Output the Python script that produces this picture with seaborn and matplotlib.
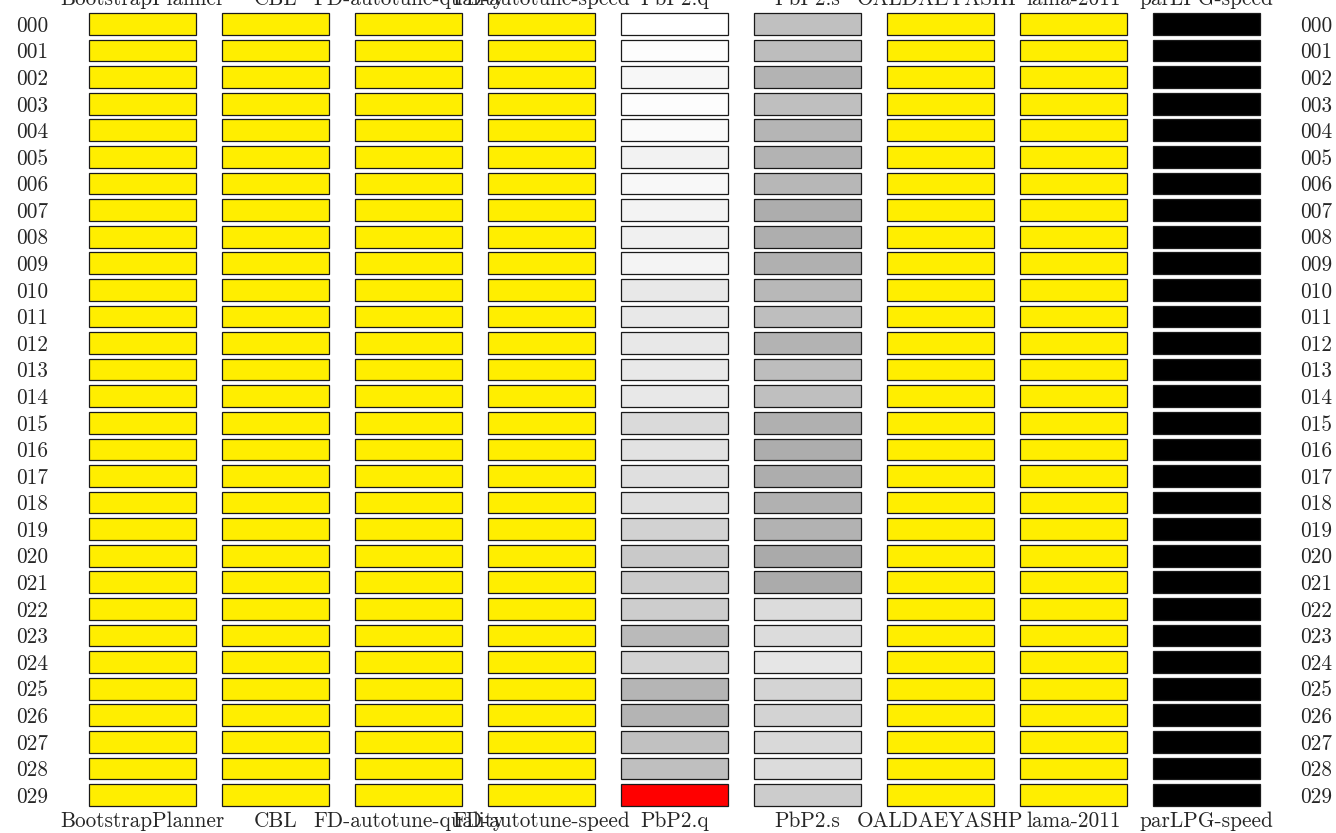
import matplotlib
matplotlib.use("Agg")
import matplotlib.pyplot as plt
import seaborn as sns

problems = ["%03d" % i for i in range(30)]
planners = ["BootstrapPlanner", "CBL", "FD-autotune-quality", "FD-autotune-speed",
            "PbP2.q", "PbP2.s", "OALDAEYASHP", "lama-2011", "parLPG-speed"]

# cell status per planner: "Y" = yellow, "K" = black, "R" = red, a number = grey level (255 white)
bootstrap = ["Y"] * 30
cbl = ["Y"] * 30
fd_quality = ["Y"] * 30
fd_speed = ["Y"] * 30
pbp2_q = [255, 253, 247, 253, 250, 242, 248, 243, 240, 244,
          232, 232, 232, 232, 232, 218, 226, 223, 223, 210,
          201, 204, 205, 186, 211, 181, 180, 193, 191, "R"]
pbp2_s = [192, 189, 179, 191, 181, 179, 183, 173, 174, 176,
          184, 190, 179, 189, 191, 176, 173, 173, 177, 178,
          170, 171, 220, 220, 230, 212, 211, 217, 220, 204]
oaldae = ["Y"] * 30
lama = ["Y"] * 30
parlpg = ["K"] * 30

cells = [bootstrap, cbl, fd_quality, fd_speed, pbp2_q, pbp2_s, oaldae, lama, parlpg]


def to_color(v):
    if v == "Y":
        return "#ffee00"
    if v == "K":
        return "#000000"
    if v == "R":
        return "#ff0000"
    return "#%02x%02x%02x" % (v, v, v)


sns.set_theme(style="white")
plt.rcParams["font.family"] = "cmr10"
plt.rcParams["axes.unicode_minus"] = False
plt.rcParams["axes.formatter.use_mathtext"] = True

W, H = 1336, 833
fig = plt.figure(figsize=(W / 100, H / 100), dpi=100)
fs = 15.3

for i, (name, col) in enumerate(zip(planners, cells)):
    ax = fig.add_axes([(89 + 133 * i) / W, 1 - 808.3 / H, 107 / W, 797.6 / H])
    sns.barplot(x=[1] * len(problems), y=problems, hue=problems, orient="h",
                palette=[to_color(v) for v in col], legend=False, saturation=1,
                width=0.816, edgecolor="#1a1a1a", linewidth=0.9, ax=ax)
    for p in ax.patches:
        p.set_clip_on(False)
    ax.set_xlim(0, 1)
    ax.set_ylim(len(problems) - 0.5, -0.5)
    sns.despine(ax=ax, left=True, bottom=True)
    ax.set_xticks([])
    ax.set_xlabel(name, fontsize=fs, labelpad=2)
    ax.set_ylabel("")
    ax.set_title(name, fontsize=fs, pad=4)
    if i == 0:
        ax.tick_params(axis="y", length=0, pad=29.5, labelsize=fs)
    elif i == len(planners) - 1:
        ax.yaxis.tick_right()
        ax.tick_params(axis="y", length=0, pad=28.8, labelsize=fs)
    else:
        ax.set_yticks([])

fig.savefig("out.png", dpi=100)
